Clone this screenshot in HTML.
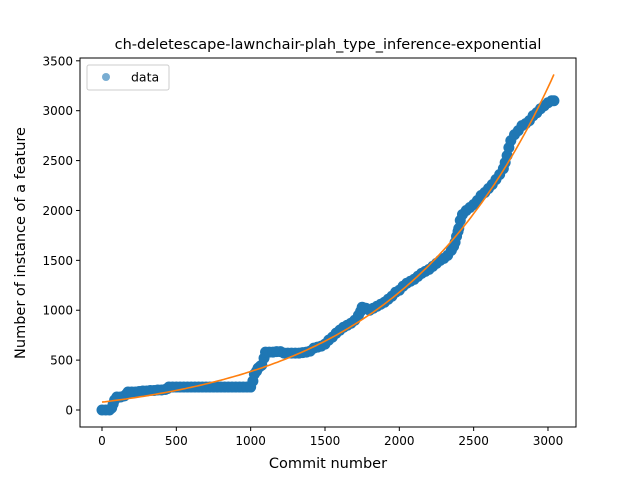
<!DOCTYPE html>
<html><head><meta charset="utf-8"><style>body{margin:0;background:#fff}svg{display:block;font-family:"DejaVu Sans","Liberation Sans",sans-serif}</style></head>
<body>
<svg id="chart" width="640" height="480">
<rect width="640" height="480" fill="#fff"/>
<text x="328" y="49" font-size="14.5" text-anchor="middle">ch-deletescape-lawnchair-plah_type_inference-exponential</text>
<text x="328" y="468" font-size="14.5" text-anchor="middle">Commit number</text>
<text x="0" y="0" font-size="14.5" text-anchor="middle" transform="translate(25,243) rotate(-90)">Number of instance of a feature</text>
<g id="ticks"></g>
<g id="marks"></g>
<rect x="80" y="58" width="496" height="369" fill="none" stroke="#000" stroke-width="1"/>
<g>
<rect x="87" y="65" width="82" height="25" rx="2" fill="#fff" stroke="#ccc"/>
<circle cx="106" cy="77" r="4" fill="#1f77b4" fill-opacity="0.6"/>
<text x="131" y="81.5" font-size="12.5">data</text>
</g>
</svg>
<script>
const commits=[0,25,50,65,75,85,100,125,150,165,175,200,225,250,275,300,325,350,375,400,425,440,450,475,500,525,550,575,600,625,650,675,700,725,750,775,800,825,850,875,900,925,950,975,1000,1015,1025,1040,1050,1065,1075,1090,1100,1125,1150,1175,1200,1225,1250,1275,1300,1325,1350,1375,1400,1425,1450,1475,1500,1525,1550,1575,1600,1625,1650,1675,1700,1725,1740,1750,1775,1800,1825,1850,1875,1900,1925,1950,1975,2000,2025,2050,2075,2100,2125,2150,2175,2200,2225,2250,2275,2300,2325,2350,2365,2375,2385,2395,2400,2410,2425,2450,2475,2500,2525,2550,2575,2600,2625,2650,2675,2700,2712,2725,2737,2750,2775,2800,2825,2850,2875,2900,2925,2950,2975,3000,3025,3040];
const counts=[0,0,0,20,60,100,130,130,140,160,180,180,180,185,190,190,195,195,200,200,205,215,230,230,230,230,230,230,230,230,230,230,230,230,230,230,230,230,230,230,230,230,230,230,230,290,360,390,420,440,450,520,580,580,580,585,585,570,570,570,570,570,575,580,590,620,630,640,660,700,730,770,800,830,850,870,900,950,990,1030,1020,1000,1020,1040,1060,1080,1110,1140,1180,1200,1240,1270,1290,1310,1340,1370,1390,1410,1440,1470,1500,1520,1550,1600,1640,1680,1740,1790,1820,1900,1960,2000,2030,2060,2100,2150,2180,2220,2260,2310,2360,2420,2480,2550,2630,2700,2760,2800,2850,2870,2900,2950,2980,3020,3050,3080,3100,3100];
const fitParams=[193.7,0.00095,-115];
const xTicks=[0,500,1000,1500,2000,2500,3000];
const yTicks=[0,500,1000,1500,2000,2500,3000,3500];
const NS='http://www.w3.org/2000/svg';
const X=v=>102+v*0.14866, Y=v=>410-v*0.09977;
const T=document.getElementById('ticks'),M=document.getElementById('marks');
function mk(tag,a,p){const e=document.createElementNS(NS,tag);for(const k in a)e.setAttribute(k,a[k]);p.appendChild(e);return e;}
xTicks.forEach(t=>{
 const l=mk('line',{x1:X(t),x2:X(t),y1:427,y2:431,stroke:'#000'},T);
 
 
 const s=mk('text',{x:X(t),y:445,'font-size':12,'text-anchor':'middle'},T);s.textContent=t;
 
 
});
yTicks.forEach(t=>{
 const l=mk('line',{x1:76,x2:80,y1:Y(t),y2:Y(t),stroke:'#000'},T);
 
 
 const s=mk('text',{x:73,y:Y(t)+4.5,'font-size':12,'text-anchor':'end'},T);s.textContent=t;
 
 
});
commits.forEach((c,i)=>{
 const p=mk('circle',{cx:X(c),cy:Y(counts[i]),r:5.5,fill:'#1f77b4'},M);
 
 
});
let d='';
for(let c=0;c<=3040;c+=20){const v=fitParams[0]*Math.exp(fitParams[1]*c)+fitParams[2];d+=(c?'L':'M')+X(c).toFixed(1)+','+Y(v).toFixed(1);}
const f=mk('path',{d:d,fill:'none',stroke:'#ff7f0e','stroke-width':1.6},M);


</script>
</body></html>
